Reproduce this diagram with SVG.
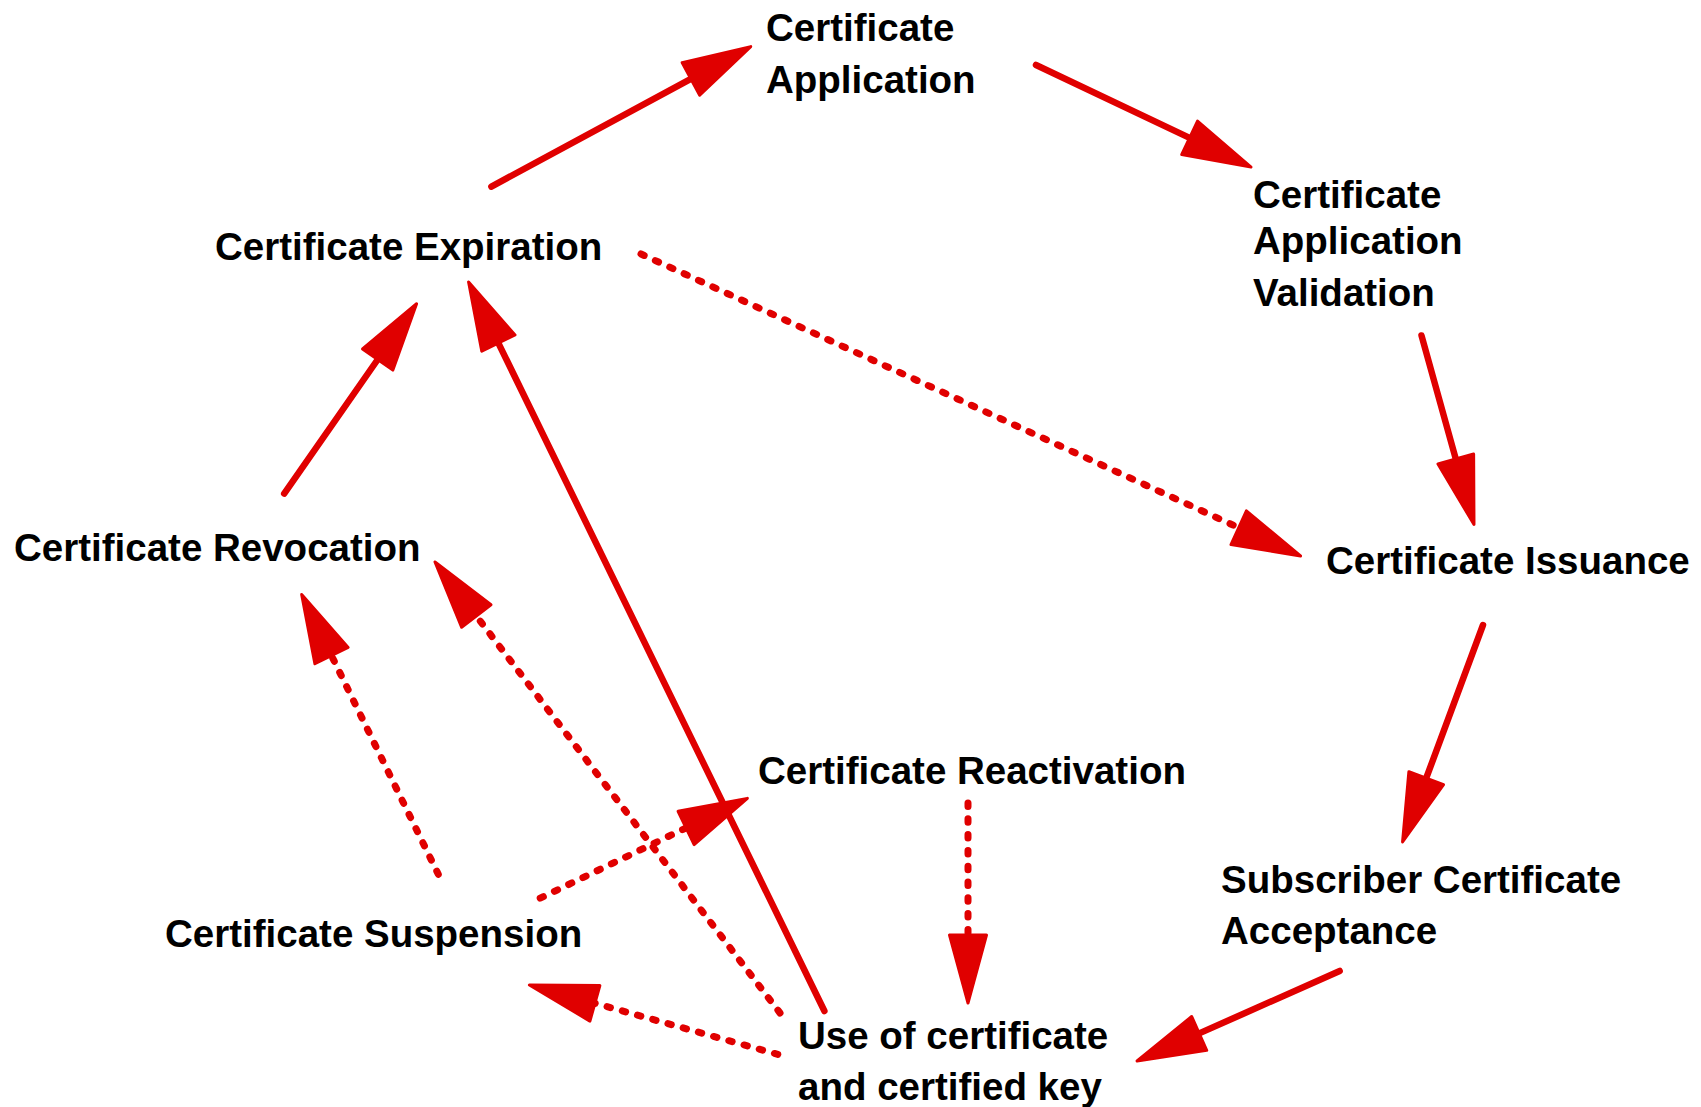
<svg xmlns="http://www.w3.org/2000/svg" width="1701" height="1107" viewBox="0 0 1701 1107">
  <style>
    .lbl { font-family: "Liberation Sans", Arial, sans-serif; font-weight: bold; font-size: 38.5px; fill: #000; }
    .edge { stroke: #e00000; stroke-width: 6.5; stroke-linecap: round; fill: none; }
    .dot { stroke-width: 7; stroke-dasharray: 3.5 12.3; }
  </style>
  <defs>
    <marker id="head" markerUnits="userSpaceOnUse" orient="auto" refX="0" refY="0" markerWidth="80" markerHeight="60" viewBox="-5 -25 80 50" overflow="visible">
      <path d="M0,-18.5 L68,0 L0,18.5 Z" fill="#e00000" stroke="#e00000" stroke-width="3" stroke-linejoin="round"/>
    </marker>
  </defs>
  <rect width="1701" height="1107" fill="#fff"/>

  <!-- lifecycle transitions -->
  <g id="connectors">
    <line class="edge" x1="491.4" y1="186.6" x2="690.9" y2="78.9" marker-end="url(#head)"/>
    <line class="edge" x1="1036" y1="65" x2="1189.6" y2="137.9" marker-end="url(#head)"/>
    <line class="edge" x1="1421.5" y1="335.5" x2="1455.8" y2="459" marker-end="url(#head)"/>
    <line class="edge dot" x1="641" y1="254" x2="1238.7" y2="527.7" marker-end="url(#head)"/>
    <line class="edge" x1="1483" y1="625" x2="1426.2" y2="778.2" marker-end="url(#head)"/>
    <line class="edge" x1="1339.7" y1="971" x2="1199.2" y2="1033.4" marker-end="url(#head)"/>
    <line class="edge dot" x1="968" y1="803" x2="968" y2="935" marker-end="url(#head)"/>
    <line class="edge" x1="824.4" y1="1011" x2="498.4" y2="343.1" marker-end="url(#head)"/>
    <line class="edge" x1="284.2" y1="493.6" x2="377.7" y2="359.5" marker-end="url(#head)"/>
    <line class="edge dot" x1="438.3" y1="874.3" x2="331.5" y2="655.6" marker-end="url(#head)"/>
    <line class="edge dot" x1="780" y1="1013" x2="476.3" y2="616" marker-end="url(#head)"/>
    <line class="edge dot" x1="540.2" y1="898.2" x2="686.1" y2="827.9" marker-end="url(#head)"/>
    <line class="edge dot" x1="777.8" y1="1054.4" x2="594.9" y2="1003.3" marker-end="url(#head)"/>
  </g>

  <g id="application">
    <text class="lbl" x="766" y="41">Certificate</text>
    <text class="lbl" x="766" y="93">Application</text>
  </g>
  <g id="validation">
    <text class="lbl" x="1253" y="208">Certificate</text>
    <text class="lbl" x="1253" y="254">Application</text>
    <text class="lbl" x="1253" y="306">Validation</text>
  </g>
  <g id="issuance">
    <text class="lbl" x="1326" y="574">Certificate Issuance</text>
  </g>
  <g id="acceptance">
    <text class="lbl" x="1221" y="893">Subscriber Certificate</text>
    <text class="lbl" x="1221" y="944">Acceptance</text>
  </g>
  <g id="use">
    <text class="lbl" x="798" y="1049">Use of certificate</text>
    <text class="lbl" x="798" y="1100">and certified key</text>
  </g>
  <g id="reactivation">
    <text class="lbl" x="758" y="784">Certificate Reactivation</text>
  </g>
  <g id="suspension">
    <text class="lbl" x="165" y="947">Certificate Suspension</text>
  </g>
  <g id="revocation">
    <text class="lbl" x="14" y="561">Certificate Revocation</text>
  </g>
  <g id="expiration">
    <text class="lbl" x="215" y="260">Certificate Expiration</text>
  </g>
</svg>
